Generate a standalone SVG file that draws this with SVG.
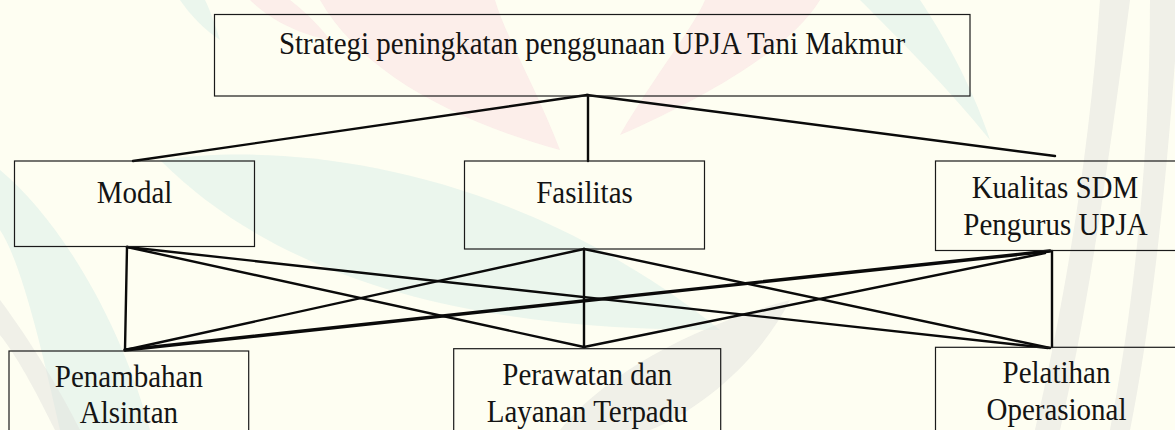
<svg xmlns="http://www.w3.org/2000/svg" width="1175" height="430" viewBox="0 0 1175 430">
<style>
.box{fill:none;stroke:#1a1a1a;stroke-width:1.2}
.lbl{font-family:"Liberation Serif","Times New Roman",serif;font-size:29px;fill:#141414;text-anchor:middle}
.con{stroke:#0a0a0a;stroke-width:2.4;fill:none;stroke-linecap:round}
.thick{stroke-width:3.4}
.wm-pink{fill:#F9DDE2;opacity:0.5}
.wm-teal{fill:#DDF0EA;opacity:0.6}
.wm-grey{fill:#E2E2DE;opacity:0.5}
</style>
<rect width="1175" height="430" fill="#FEFEF2"/>
<g id="watermark">
  <path class="wm-pink" d="M320 0 C360 70 450 120 560 150 C535 85 505 35 495 0 Z"/>
  <path class="wm-pink" d="M820 0 C790 50 700 100 620 135 C655 75 695 25 705 0 Z"/>
  <path class="wm-pink" d="M250 0 C270 20 300 35 330 40 C315 20 300 8 290 0 Z"/>
  <path class="wm-teal" d="M160 160 C300 140 520 170 720 330 C520 330 300 300 160 160 Z"/>
  <path class="wm-teal" d="M0 170 C60 220 120 320 150 430 L60 430 C40 340 20 260 0 230 Z"/>
  <path class="wm-teal" d="M860 0 C900 40 950 90 990 140 C970 80 940 30 920 0 Z"/>
  <path class="wm-teal" d="M180 0 C190 15 205 30 220 40 C215 25 210 10 205 0 Z"/>
  <path class="wm-grey" d="M1100 0 L1130 0 C1110 150 1090 300 1060 430 L1035 430 C1065 300 1090 150 1100 0 Z"/>
  <path class="wm-grey" d="M1150 0 L1175 0 L1175 60 C1165 200 1150 330 1130 430 L1110 430 C1135 300 1150 150 1150 0 Z"/>
  <path class="wm-grey" d="M560 430 C600 380 680 330 790 300 C760 360 700 410 650 430 Z"/>
  <path class="wm-grey" d="M0 300 C30 340 60 390 80 430 L55 430 C40 400 20 360 0 335 Z"/>
</g>
<g id="connectors">
  <line class="con" x1="587" y1="95" x2="133" y2="161"/>
  <line class="con" x1="588" y1="95" x2="588" y2="161"/>
  <line class="con" x1="587" y1="95" x2="1055" y2="156"/>
  <line class="con" x1="127" y1="247" x2="125" y2="350"/>
  <line class="con" x1="127" y1="247" x2="584" y2="347"/>
  <line class="con" x1="127" y1="247" x2="1048" y2="348"/>
  <line class="con" x1="584" y1="249" x2="125" y2="350"/>
  <line class="con" x1="584" y1="249" x2="584" y2="347"/>
  <line class="con" x1="584" y1="249" x2="1050" y2="348"/>
  <line class="con thick" x1="1050" y1="251" x2="125" y2="350"/>
  <line class="con" x1="1045" y1="253" x2="584" y2="347"/>
  <line class="con" x1="1052" y1="251" x2="1052" y2="347"/>
</g>
<g id="node-strategi">
  <rect class="box" x="214.5" y="14.5" width="755.5" height="81.5"/>
  <text class="lbl" transform="translate(592 54) scale(1 1.07)">Strategi peningkatan penggunaan UPJA Tani Makmur</text>
</g>
<g id="node-modal">
  <rect class="box" x="14.5" y="161" width="240" height="85.5"/>
  <text class="lbl" transform="translate(134.5 202.7) scale(1 1.07)">Modal</text>
</g>
<g id="node-fasilitas">
  <rect class="box" x="464.5" y="161" width="240" height="88"/>
  <text class="lbl" transform="translate(584.5 203.3) scale(1 1.07)">Fasilitas</text>
</g>
<g id="node-kualitas">
  <rect class="box" x="935.5" y="161" width="241" height="89.5"/>
  <text class="lbl" transform="translate(1055 198.3) scale(1 1.07)">Kualitas SDM</text>
  <text class="lbl" transform="translate(1055.5 235) scale(1 1.07)">Pengurus UPJA</text>
</g>
<g id="node-penambahan">
  <rect class="box" x="9" y="351" width="239.7" height="90"/>
  <text class="lbl" transform="translate(128.9 387.3) scale(1 1.07)">Penambahan</text>
  <text class="lbl" transform="translate(128.9 423.3) scale(1 1.07)">Alsintan</text>
</g>
<g id="node-perawatan">
  <rect class="box" x="453.7" y="348.7" width="267" height="92"/>
  <text class="lbl" transform="translate(587.2 385) scale(1 1.07)">Perawatan dan</text>
  <text class="lbl" transform="translate(587.2 421.7) scale(1 1.07)">Layanan Terpadu</text>
</g>
<g id="node-pelatihan">
  <rect class="box" x="935.5" y="347.3" width="241" height="94"/>
  <text class="lbl" transform="translate(1056.5 383.3) scale(1 1.07)">Pelatihan</text>
  <text class="lbl" transform="translate(1056.5 420) scale(1 1.07)">Operasional</text>
</g>
</svg>
